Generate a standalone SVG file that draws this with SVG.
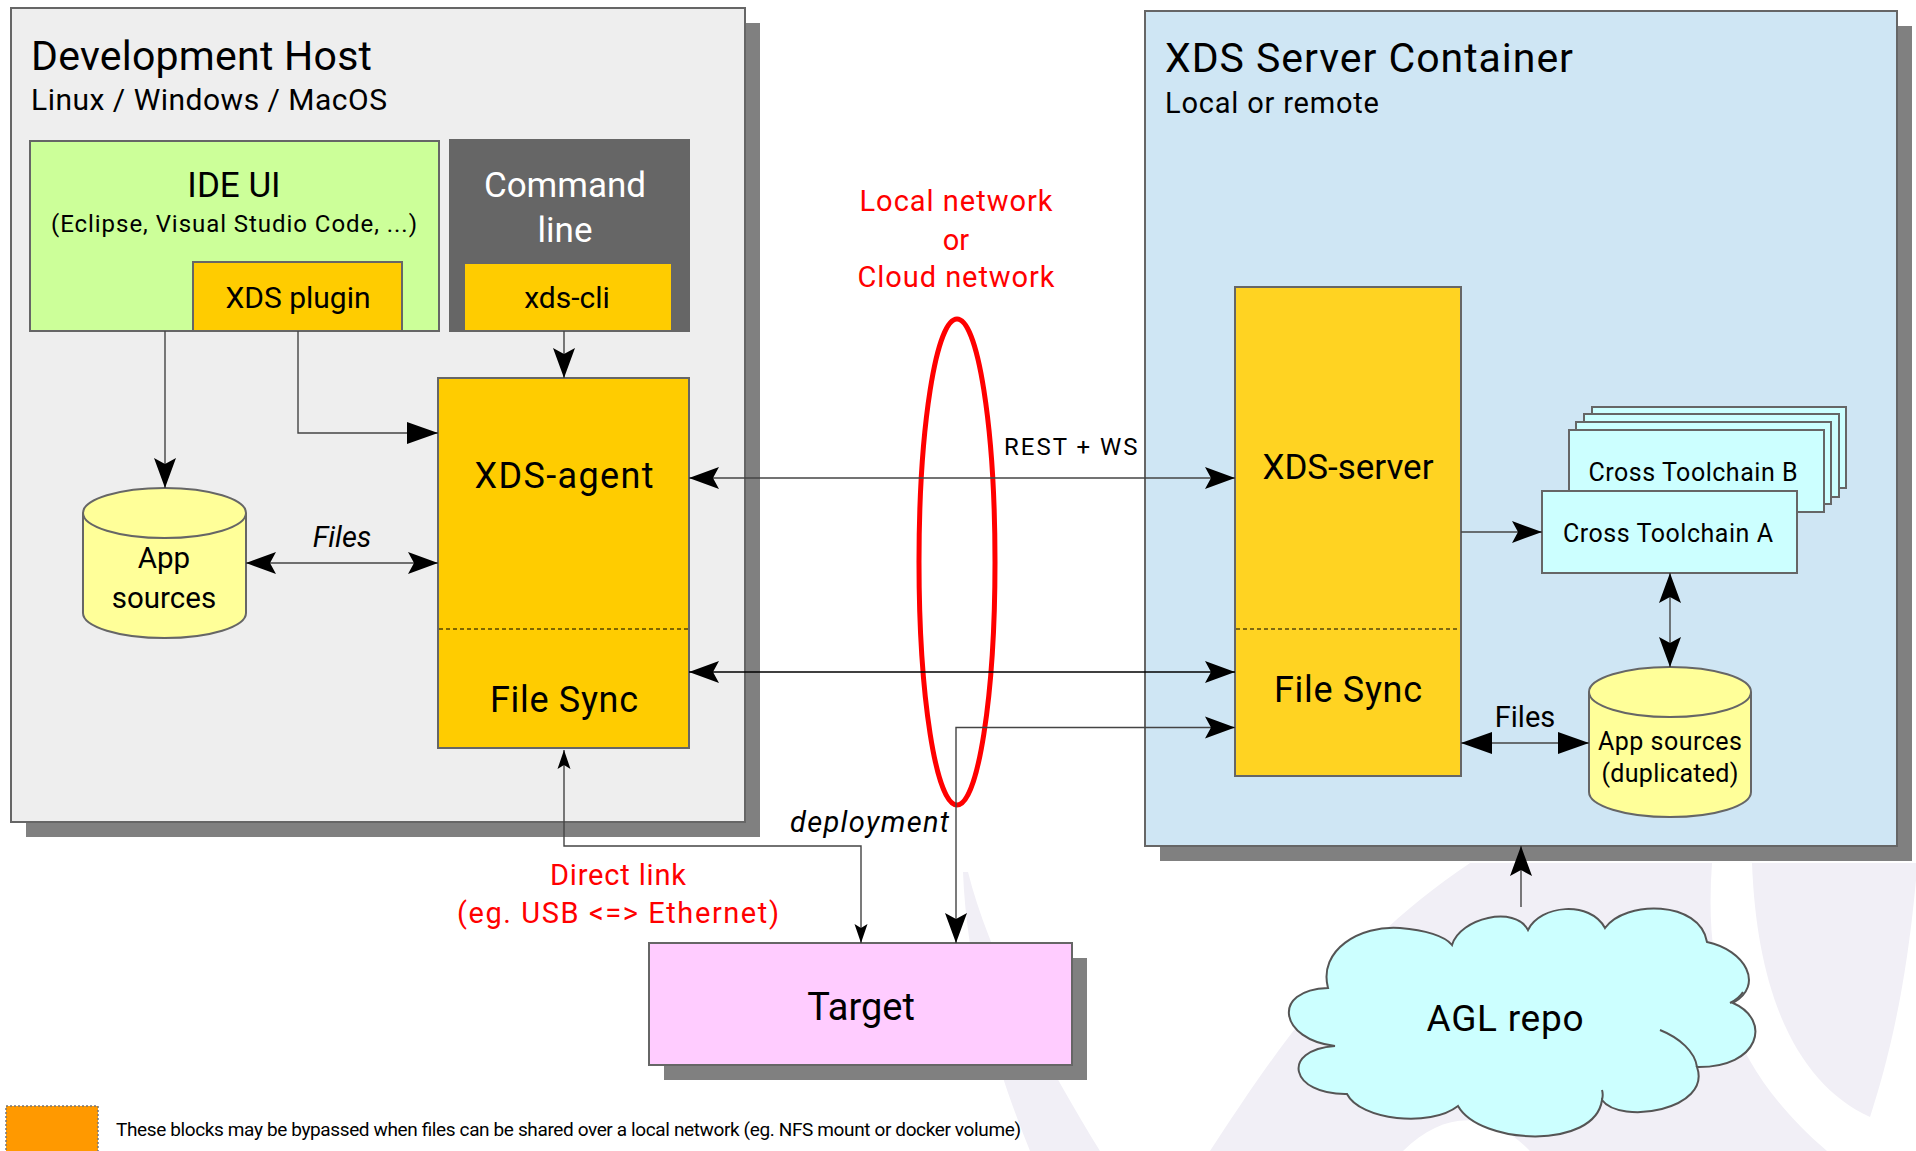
<svg xmlns="http://www.w3.org/2000/svg" width="1916" height="1151" viewBox="0 0 1916 1151">
<style>
text{font-family:Roboto,"Liberation Sans",sans-serif;fill:#000}
.box{stroke:#666;stroke-width:2}
.shadow{fill:#808080}
.c{text-anchor:middle}
.red{fill:#ff0000}
.wm{fill:#f1eff6}
.conn{fill:none;stroke:#444;stroke-width:1.4}
.dash{stroke:#000;stroke-width:1.2;stroke-dasharray:4 3}
</style>
<defs>
<marker id="ah" markerUnits="userSpaceOnUse" markerWidth="34" markerHeight="26" viewBox="-32 -13 34 26" refX="0" refY="0" orient="auto-start-reverse">
<path d="M0,0 L-30,-11 L-24,0 L-30,11 Z" fill="#000"/>
</marker>
<marker id="at" markerUnits="userSpaceOnUse" markerWidth="34" markerHeight="26" viewBox="-32 -13 34 26" refX="0" refY="0" orient="auto-start-reverse">
<path d="M0,0 L-31,-11 L-31,11 Z" fill="#000"/>
</marker>
<marker id="as" markerUnits="userSpaceOnUse" markerWidth="22" markerHeight="16" viewBox="-20 -8 22 16" refX="0" refY="0" orient="auto-start-reverse">
<path d="M0,0 L-19,-6.5 L-15,0 L-19,6.5 Z" fill="#000"/>
</marker>
</defs>

<g id="watermark">
<path class="wm" d="M963,872 C966,950 985,1040 1030,1151 L1100,1151 C1050,1070 990,960 968,872 Z"/>
<path class="wm" d="M1210,1151 C1270,1060 1340,950 1470,863 L1712,863 C1705,960 1720,1060 1827,1151 L1530,1151 C1490,1110 1445,1110 1403,1151 Z"/>
<path class="wm" d="M1752,863 L1916,863 L1916,880 C1905,1000 1885,1070 1870,1117 C1800,1085 1757,1000 1752,863 Z"/>
</g>

<g id="dev-host">
<rect class="shadow" x="26" y="23" width="734" height="814"/>
<rect class="box" x="11" y="8" width="734" height="814" fill="#eeeeee"/>
<text x="31" y="70" font-size="41" textLength="341" lengthAdjust="spacing">Development Host</text>
<text x="31" y="110" font-size="30" textLength="356" lengthAdjust="spacing">Linux / Windows / MacOS</text>
</g>

<g id="ide-ui">
<rect class="box" x="30" y="141" width="409" height="190" fill="#ccff99"/>
<text class="c" x="234" y="197" font-size="35">IDE UI</text>
<text class="c" x="234" y="232" font-size="24" textLength="366" lengthAdjust="spacing">(Eclipse, Visual Studio Code, ...)</text>
</g>

<g id="xds-plugin">
<rect class="box" x="193" y="262" width="209" height="69" fill="#ffcc00"/>
<text class="c" x="298" y="308" font-size="30">XDS plugin</text>
</g>

<g id="command-line">
<rect class="box" x="450" y="140" width="239" height="191" fill="#666666"/>
<text class="c" x="565" y="197" font-size="35" style="fill:#fff">Command</text>
<text class="c" x="565" y="242" font-size="35" style="fill:#fff">line</text>
</g>

<g id="xds-cli">
<rect class="box" x="464" y="263" width="208" height="68" fill="#ffcc00"/>
<text class="c" x="567" y="308" font-size="30">xds-cli</text>
</g>

<g id="xds-agent">
<rect class="box" x="438" y="378" width="251" height="370" fill="#ffcc00"/>
<line class="dash" x1="439" y1="629" x2="688" y2="629"/>
<text class="c" x="564" y="488" font-size="36" textLength="179" lengthAdjust="spacing">XDS-agent</text>
<text class="c" x="564" y="712" font-size="36" textLength="148" lengthAdjust="spacing">File Sync</text>
</g>

<g id="app-sources">
<path class="box" d="M83,513 A81.5,25 0 0 1 246,513 V613 A81.5,25 0 0 1 83,613 Z" fill="#ffff99"/>
<path class="box" d="M83,513 A81.5,25 0 0 0 246,513" fill="none"/>
<text class="c" x="164" y="568" font-size="29.5">App</text>
<text class="c" x="164" y="608" font-size="29.5">sources</text>
</g>

<g id="network-label">
<ellipse cx="957" cy="562" rx="38" ry="243" fill="none" stroke="#ff0000" stroke-width="5"/>
<text class="c red" x="956" y="211" font-size="29" textLength="193" lengthAdjust="spacing">Local network</text>
<text class="c red" x="956" y="250" font-size="29">or</text>
<text class="c red" x="956" y="287" font-size="29" textLength="197" lengthAdjust="spacing">Cloud network</text>
</g>

<g id="xds-server-container">
<rect class="shadow" x="1160" y="26" width="752" height="835"/>
<rect class="box" x="1145" y="11" width="752" height="835" fill="#cfe6f4"/>
<text x="1165" y="72" font-size="41" textLength="408" lengthAdjust="spacing">XDS Server Container</text>
<text x="1165" y="113" font-size="29" textLength="214" lengthAdjust="spacing">Local or remote</text>
</g>

<g id="xds-server">
<rect class="box" x="1235" y="287" width="226" height="489" fill="#ffd322"/>
<line class="dash" x1="1236" y1="629" x2="1460" y2="629"/>
<text class="c" x="1348" y="479" font-size="35" textLength="171" lengthAdjust="spacing">XDS-server</text>
<text class="c" x="1348" y="702" font-size="36" textLength="148" lengthAdjust="spacing">File Sync</text>
</g>

<g id="cross-toolchain-b">
<rect class="box" x="1592" y="407" width="254" height="81" fill="#ccffff"/>
<rect class="box" x="1584" y="414" width="255" height="83" fill="#ccffff"/>
<rect class="box" x="1576" y="422" width="255" height="82" fill="#ccffff"/>
<rect class="box" x="1569" y="430" width="255" height="82" fill="#ccffff"/>
<text class="c" x="1693" y="481" font-size="25" textLength="209" lengthAdjust="spacing">Cross Toolchain B</text>
</g>

<g id="cross-toolchain-a">
<rect class="box" x="1542" y="491" width="255" height="82" fill="#ccffff"/>
<text class="c" x="1668" y="542" font-size="25" textLength="210" lengthAdjust="spacing">Cross Toolchain A</text>
</g>

<g id="app-sources-dup">
<path class="box" d="M1589,692 A81,25 0 0 1 1751,692 V792 A81,25 0 0 1 1589,792 Z" fill="#ffff99"/>
<path class="box" d="M1589,692 A81,25 0 0 0 1751,692" fill="none"/>
<text class="c" x="1670" y="750" font-size="25" textLength="144" lengthAdjust="spacing">App sources</text>
<text class="c" x="1670" y="782" font-size="25" textLength="137" lengthAdjust="spacing">(duplicated)</text>
</g>

<g id="target">
<rect class="shadow" x="664" y="958" width="423" height="122"/>
<rect class="box" x="649" y="943" width="423" height="122" fill="#ffccff"/>
<text class="c" x="861" y="1020" font-size="38">Target</text>
</g>

<g id="agl-repo">
<path d="M1328,988 C1318,950 1360,925 1400,928 C1425,930 1445,936 1452,945 C1460,918 1515,905 1528,930 C1540,905 1590,900 1605,928 C1625,900 1700,900 1707,942 C1745,950 1765,985 1733,1003 C1772,1020 1760,1068 1697,1067 C1712,1110 1620,1125 1602,1100 C1595,1150 1480,1145 1458,1106 C1430,1128 1360,1120 1347,1094 C1290,1095 1280,1050 1335,1046 C1280,1040 1270,990 1328,988 Z" fill="#ccffff" stroke="#555" stroke-width="2"/>
<path d="M1660,1030 C1680,1038 1695,1052 1697,1067 M1743,992 C1740,997 1736,1000 1730,1003 M1602,1100 C1603,1096 1603,1093 1602,1090" fill="none" stroke="#555" stroke-width="2"/>
<text class="c" x="1505" y="1031" font-size="37" textLength="157" lengthAdjust="spacing">AGL repo</text>
</g>

<g id="connectors">
<path class="conn" d="M165,331 V488" marker-end="url(#ah)"/>
<path class="conn" d="M298,331 V433 H438" marker-end="url(#at)"/>
<path class="conn" d="M564,331 V378" marker-end="url(#ah)"/>
<path class="conn" d="M246,563 H438" marker-start="url(#ah)" marker-end="url(#ah)"/>
<path class="conn" d="M689,478 H1235" marker-start="url(#ah)" marker-end="url(#ah)"/>
<path class="conn" style="stroke:#000" d="M689,672 H1235" marker-start="url(#ah)" marker-end="url(#ah)"/>
<path class="conn" d="M1235,727.5 H956 V943" marker-start="url(#ah)" marker-end="url(#ah)"/>
<path class="conn" d="M564,750 V846 H861 V943" marker-start="url(#as)" marker-end="url(#as)"/>
<path class="conn" d="M1461,532 H1542" marker-end="url(#ah)"/>
<path class="conn" d="M1670,573 V667" marker-start="url(#ah)" marker-end="url(#ah)"/>
<path class="conn" d="M1461,743 H1589" marker-start="url(#at)" marker-end="url(#at)"/>
<path class="conn" d="M1521,907 V846" marker-end="url(#ah)"/>
<text x="342" y="547" font-size="29" font-style="italic" class="c">Files</text>
<text x="1004" y="455" font-size="24" letter-spacing="2">REST + WS</text>
<text x="1525" y="727" font-size="29" class="c">Files</text>
<text x="949" y="832" font-size="29" font-style="italic" text-anchor="end" textLength="159" lengthAdjust="spacing">deployment</text>
<text class="c red" x="618" y="885" font-size="29" textLength="136" lengthAdjust="spacing">Direct link</text>
<text class="c red" x="618" y="923" font-size="29" textLength="322" lengthAdjust="spacing">(eg. USB &lt;=&gt; Ethernet)</text>
</g>

<g id="legend">
<rect x="6" y="1106" width="92" height="50" fill="#ff9900" stroke="#777" stroke-width="1.5" stroke-dasharray="2 2"/>
<text x="116" y="1136" font-size="19" textLength="905" lengthAdjust="spacing">These blocks may be bypassed when files can be shared over a local network (eg. NFS mount or docker volume)</text>
</g>
</svg>
